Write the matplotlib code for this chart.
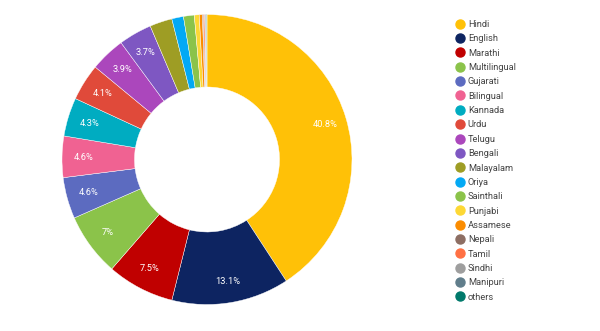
import numpy as np
import matplotlib.pyplot as plt
from matplotlib.lines import Line2D

languages = ["Hindi", "English", "Marathi", "Multilingual", "Gujarati", "Bilingual",
             "Kannada", "Urdu", "Telugu", "Bengali", "Malayalam", "Oriya", "Sainthali",
             "Punjabi", "Assamese", "Nepali", "Tamil", "Sindhi", "Manipuri", "others"]
shares = [40.8, 13.1, 7.5, 7, 4.6, 4.6, 4.3, 4.1, 3.9, 3.7,
          2.5, 1.3, 1.2, 0.55, 0.35, 0.1, 0.15, 0.1, 0.1, 0.05]
colors = ["#FFC107", "#0D2461", "#C00000", "#8BC34A", "#5C6BC0", "#F06292",
          "#00ACC1", "#E04A3A", "#AB47BC", "#7E57C2", "#9E9D24", "#03A9F4",
          "#8BC34A", "#FDD835", "#FB8C00", "#8D6E63", "#FF7043", "#9E9E9E",
          "#607D8B", "#00796B"]

plt.rcParams["font.family"] = ["Roboto", "DejaVu Sans"]

fig = plt.figure(figsize=(6, 3.31), dpi=100)
ax = fig.add_axes([62 / 600, 26.5 / 331, 290 / 600, 290 / 331])

wedges, _ = ax.pie(shares, colors=colors, startangle=90, counterclock=False,
                   radius=1.0, wedgeprops=dict(width=0.5, edgecolor="white", linewidth=0.3))

# percentage labels only on the larger slices
for w, v in zip(wedges, shares):
    if v < 3.5:
        continue
    ang = np.deg2rad((w.theta1 + w.theta2) / 2)
    r = 0.85
    ax.text(r * np.cos(ang), r * np.sin(ang), f"{v:g}%", color="white",
            ha="center", va="center", fontsize=6.7)

ax.set_xlim(-1, 1)
ax.set_ylim(-1, 1)
ax.set_aspect("equal")
ax.axis("off")

handles = [Line2D([], [], marker="o", linestyle="", markersize=6.5,
                  markerfacecolor=c, markeredgecolor=c) for c in colors]
fig.legend(handles, languages, loc="upper left", bbox_to_anchor=(455.3 / 600, 1 - 20 / 331),
           frameon=False, fontsize=6.7, labelspacing=0.575, handletextpad=0.35,
           handlelength=1.0, borderaxespad=0, borderpad=0, labelcolor="#444444")

fig.savefig("out.png", dpi=100)
